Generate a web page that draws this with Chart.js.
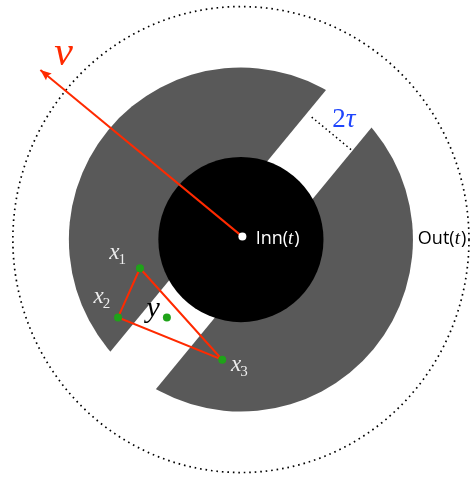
<!DOCTYPE html>
<html>
<head>
<meta charset="utf-8">
<script src="https://cdn.jsdelivr.net/npm/chart.js@4/dist/chart.umd.min.js"></script>
<style>
  html, body { margin: 0; padding: 0; background: #fff; }
  canvas { display: block; }
</style>
</head>
<body>
<canvas id="diagram" width="472" height="486"></canvas>
<script>
// Diagram values, in the units of the hidden x / y scales (origin top left)
const ringCenter = [241, 239.5];
const innerRadius = 84;
const outerRadius = 175;
const boundRadius = [232, 237];      // dotted Out(t) boundary
const stripAngle = 50.5;             // degrees, direction of the empty strip
const stripHalfWidth = 30;           // tau

const originPoint = [242.5, 236.5];  // the white dot
const velocityTip = [37, 67];

const sampleLabels = ['1', '2', '3'];
const sampleX = [138.3, 116, 222];
const sampleY = [268.7, 318.7, 361.7];
const targetPoint = [165.7, 318.7];

const gapMarkX = [313, 353];
const gapMarkY = [115, 148];

// colours
const gray = '#595959';
const red = '#ff2a00';
const green = '#1fa319';
const blue = '#1f45fc';

const samplePoints = sampleX.map((x, i) => ({ x: x, y: sampleY[i] }));
const trianglePoints = samplePoints.concat([samplePoints[0]]);

// helpers that go through the chart scales
function toPx(chart, x, y) {
  return [chart.scales.x.getPixelForValue(x), chart.scales.y.getPixelForValue(y)];
}
function lenPx(chart, r) {
  return Math.abs(chart.scales.x.getPixelForValue(r) - chart.scales.x.getPixelForValue(0));
}

// Runs of text with different fonts, drawn left to right from a baseline
function drawRuns(ctx, x, y, runs, color) {
  ctx.fillStyle = color;
  ctx.textBaseline = 'alphabetic';
  ctx.textAlign = 'left';
  runs.forEach((run) => {
    ctx.font = run.font;
    ctx.fillText(run.text, x, y + (run.dy || 0));
    x += ctx.measureText(run.text).width + (run.kern || 0);
  });
}

const ringsPlugin = {
  id: 'rings',
  beforeDatasetsDraw(chart) {
    const ctx = chart.ctx;
    const [cx, cy] = toPx(chart, ringCenter[0], ringCenter[1]);
    const rOut = lenPx(chart, outerRadius);
    const rIn = lenPx(chart, innerRadius);
    const halfW = lenPx(chart, stripHalfWidth);

    // the two gray pieces either side of the strip
    [1, -1].forEach((side) => {
      ctx.save();
      ctx.translate(cx, cy);
      ctx.rotate(-stripAngle * Math.PI / 180);
      ctx.beginPath();
      if (side > 0) ctx.rect(-rOut - 5, halfW, rOut * 2 + 10, rOut + 5);
      else ctx.rect(-rOut - 5, -halfW - rOut - 5, rOut * 2 + 10, rOut + 5);
      ctx.clip();
      ctx.beginPath();
      ctx.arc(0, 0, rOut, 0, Math.PI * 2);
      ctx.fillStyle = gray;
      ctx.fill();
      ctx.restore();
    });

    // Inn(t) disk
    ctx.save();
    ctx.beginPath();
    ctx.arc(cx, cy, rIn, 0, Math.PI * 2);
    ctx.fillStyle = '#000000';
    ctx.fill();
    ctx.restore();

    // dotted boundary
    ctx.save();
    ctx.beginPath();
    ctx.ellipse(cx, cy, lenPx(chart, boundRadius[0]), lenPx(chart, boundRadius[1]), 0, 0, Math.PI * 2);
    ctx.setLineDash([1.6, 3.9]);
    ctx.lineWidth = 1.7;
    ctx.strokeStyle = '#000000';
    ctx.stroke();
    ctx.restore();
  },
  afterDatasetsDraw(chart) {
    const ctx = chart.ctx;

    // arrow head on v
    const [ox, oy] = toPx(chart, originPoint[0], originPoint[1]);
    const [tx, ty] = toPx(chart, velocityTip[0], velocityTip[1]);
    const len = Math.hypot(tx - ox, ty - oy);
    const ux = (tx - ox) / len, uy = (ty - oy) / len;
    const headL = 11, headW = 4.5;
    ctx.save();
    ctx.beginPath();
    ctx.moveTo(tx, ty);
    ctx.lineTo(tx - ux * headL - uy * headW, ty - uy * headL + ux * headW);
    ctx.lineTo(tx - ux * headL * 0.85, ty - uy * headL * 0.85);
    ctx.lineTo(tx - ux * headL + uy * headW, ty - uy * headL - ux * headW);
    ctx.closePath();
    ctx.fillStyle = red;
    ctx.fill();
    ctx.restore();

    // labels
    const serif = '"Liberation Serif", "DejaVu Serif", serif';
    const sans = '"Open Sans", Lato, sans-serif';
    ctx.save();
    let p = toPx(chart, 51, 62);
    drawRuns(ctx, p[0], p[1], [{ text: 'v', font: 'italic 42px ' + serif }], red);

    p = toPx(chart, 334, 125);
    drawRuns(ctx, p[0], p[1], [
      { text: '2', font: '27px ' + serif },
      { text: '\u03c4', font: 'italic 27px ' + serif }
    ], blue);

    p = toPx(chart, 256, 244);
    drawRuns(ctx, p[0], p[1], [
      { text: 'Inn(', font: '18px ' + sans },
      { text: 't', font: 'italic 19px ' + serif, kern: 1 },
      { text: ')', font: '18px ' + sans }
    ], '#ffffff');

    p = toPx(chart, 421, 244);
    drawRuns(ctx, p[0], p[1], [
      { text: 'Out(', font: '18px ' + sans },
      { text: 't', font: 'italic 19px ' + serif, kern: 1 },
      { text: ')', font: '18px ' + sans }
    ], '#000000');

    const labelPos = [[107, 259], [91, 304], [231, 373]];
    sampleLabels.forEach((s, i) => {
      const q = toPx(chart, labelPos[i][0], labelPos[i][1]);
      drawRuns(ctx, q[0], q[1], [
        { text: 'x', font: 'italic 23px ' + serif, kern: -1 },
        { text: s, font: '15px ' + serif, dy: 5 }
      ], '#eeeeee');
    });

    p = toPx(chart, 145, 318);
    drawRuns(ctx, p[0], p[1], [{ text: 'y', font: 'italic 30px ' + serif }], '#000000');
    ctx.restore();
  }
};

new Chart(document.getElementById('diagram'), {
  type: 'scatter',
  plugins: [ringsPlugin],
  data: {
    datasets: [
      {
        // red triangle through the samples
        type: 'line',
        data: trianglePoints,
        borderColor: red,
        borderWidth: 2,
        pointRadius: 0,
        fill: false,
        tension: 0,
        order: 3
      },
      {
        // velocity v
        type: 'line',
        data: [{ x: originPoint[0], y: originPoint[1] }, { x: velocityTip[0], y: velocityTip[1] }],
        borderColor: red,
        borderWidth: 2,
        pointRadius: 0,
        fill: false,
        order: 3
      },
      {
        // width of the strip, 2 tau
        type: 'line',
        data: gapMarkX.map((x, i) => ({ x: x, y: gapMarkY[i] })),
        borderColor: '#000000',
        borderWidth: 1.5,
        borderDash: [1.5, 3],
        pointRadius: 0,
        fill: false,
        order: 3
      },
      {
        // x1, x2, x3 and y
        data: samplePoints.concat([{ x: targetPoint[0], y: targetPoint[1] }]),
        backgroundColor: green,
        borderWidth: 0,
        pointRadius: 4,
        order: 1
      },
      {
        // centre dot
        data: [{ x: originPoint[0], y: originPoint[1] }],
        backgroundColor: '#ffffff',
        borderWidth: 0,
        pointRadius: 4,
        order: 1
      }
    ]
  },
  options: {
    responsive: false,
    animation: false,
    layout: { padding: 0 },
    scales: {
      x: { type: 'linear', min: 0, max: 472, display: false },
      y: { type: 'linear', min: 0, max: 486, reverse: true, display: false }
    },
    plugins: {
      legend: { display: false },
      tooltip: { enabled: false }
    },
    events: []
  }
});
</script>
</body>
</html>
